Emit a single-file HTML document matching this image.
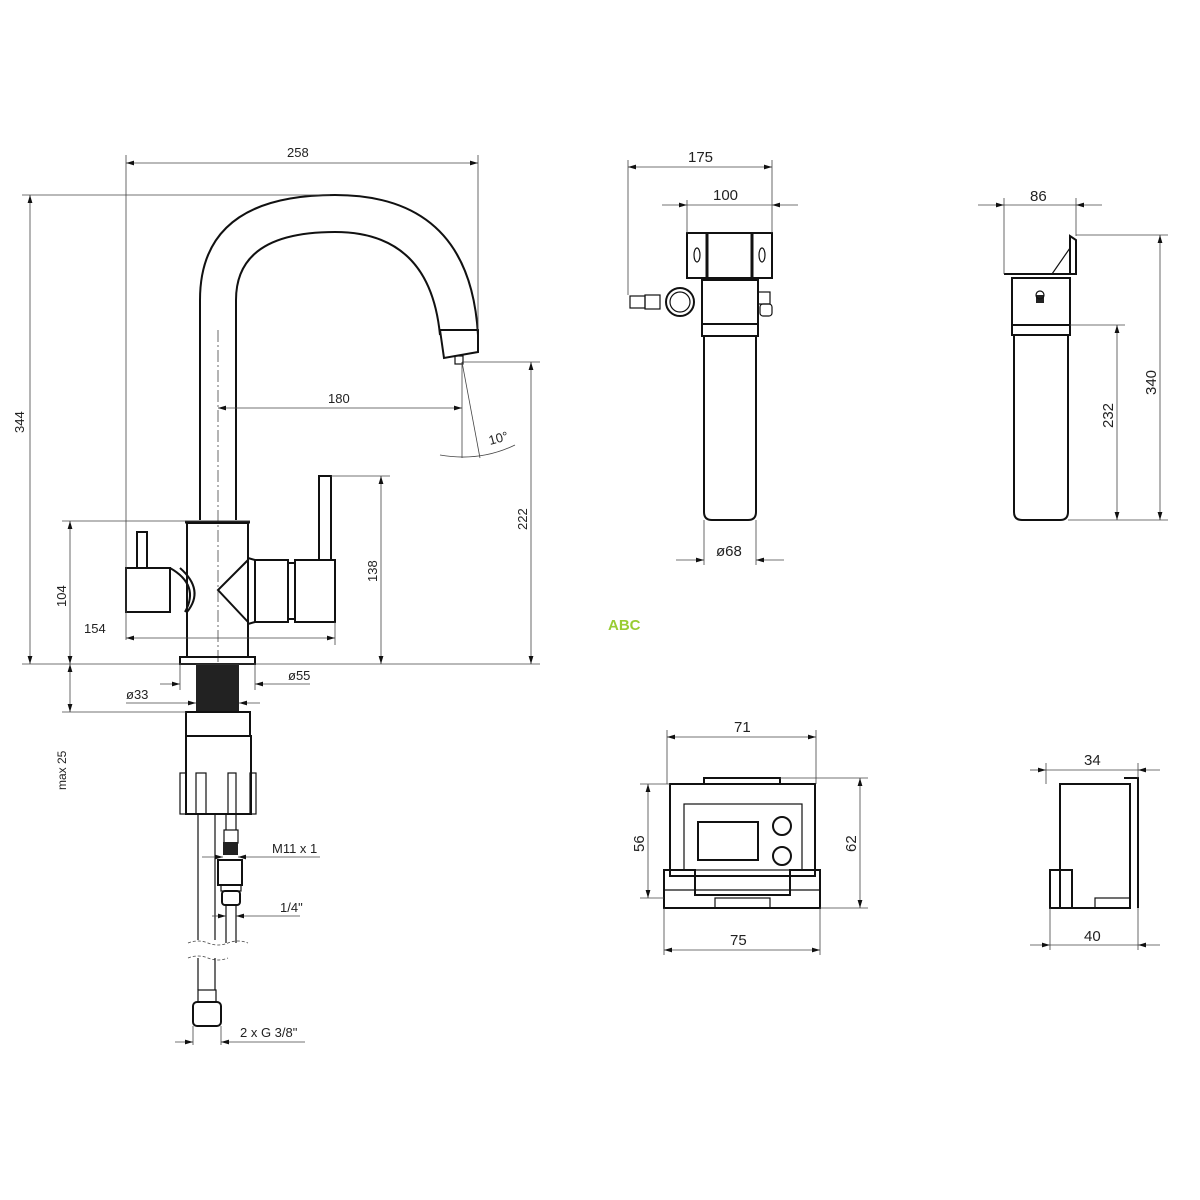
<!DOCTYPE html>
<html><head><style>
html,body{margin:0;padding:0;background:#fff}
svg{display:block}
text{font-family:"Liberation Sans",sans-serif;font-size:13px;fill:#222}
.o{fill:none;stroke:#111;stroke-width:2}
.t{fill:none;stroke:#111;stroke-width:1.2}
.d{fill:none;stroke:#444;stroke-width:0.8}
</style></head><body>
<svg width="1200" height="1200" viewBox="0 0 1200 1200">
<defs>
<marker id="a" viewBox="0 0 10 6" refX="10" refY="3" markerWidth="10" markerHeight="6" orient="auto-start-reverse"><path d="M0,0 L10,3 L0,6z" fill="#111"/></marker>
</defs>
<!-- FAUCET -->
<path class="o" d="M200,520 V300 Q200,195 335,195 Q470,195 478,335"/>
<path class="o" d="M236,520 V300 Q236,232 335,232 Q430,232 440,335"/>
<path class="o" d="M440,330 L478,330 L478,352 L444,358 Z"/>
<rect x="455" y="356" width="8" height="8" class="t"/>
<line class="d" x1="218" y1="330" x2="218" y2="664" stroke-dasharray="12,3,2,3"/>
<rect class="o" x="187" y="523" width="61" height="134"/>
<line x1="185" y1="522" x2="250" y2="522" stroke="#111" stroke-width="3"/>
<rect class="o" x="126" y="568" width="44" height="44"/>
<path class="o" d="M170,568 Q200,585 185,612"/>
<path class="o" d="M180,568 Q205,590 187,612"/>
<rect class="o" x="137" y="532" width="10" height="36"/>
<path class="o" d="M248,560 L218,590 L248,622"/>
<path class="o" d="M248,558 L255,560 V622 L248,624"/>
<rect class="o" x="255" y="560" width="33" height="62"/>
<rect class="o" x="288" y="563" width="7" height="56"/>
<rect class="o" x="295" y="560" width="40" height="62"/>
<rect class="o" x="319" y="476" width="12" height="84"/>
<rect class="o" x="180" y="657" width="75" height="7"/>
<rect x="196" y="664" width="43" height="48" fill="#222"/>
<rect class="o" x="186" y="712" width="64" height="24"/>
<rect class="o" x="186" y="736" width="65" height="78"/>
<rect class="t" x="180" y="773" width="6" height="41"/><rect class="t" x="196" y="773" width="10" height="41"/>
<rect class="t" x="228" y="773" width="8" height="41"/><rect class="t" x="250" y="773" width="6" height="41"/>
<line class="t" x1="198" y1="814" x2="198" y2="940"/><line class="t" x1="215" y1="814" x2="215" y2="940"/>
<line class="t" x1="226" y1="814" x2="226" y2="830"/><line class="t" x1="236" y1="814" x2="236" y2="830"/>
<rect class="t" x="224" y="830" width="14" height="13"/><rect x="223" y="842" width="15" height="13" fill="#222"/>
<rect class="o" x="218" y="860" width="24" height="25"/><rect class="t" x="221" y="885" width="20" height="6"/>
<rect class="o" x="222" y="891" width="18" height="14" rx="3"/>
<line class="t" x1="226" y1="905" x2="226" y2="943"/><line class="t" x1="236" y1="905" x2="236" y2="943"/>
<path class="d" d="M188,943 q10,-4 20,0 t20,0 t20,0" stroke-dasharray="3,2"/>
<path class="d" d="M188,958 q10,-4 20,0 t20,0" stroke-dasharray="3,2"/>
<line class="t" x1="198" y1="958" x2="198" y2="990"/><line class="t" x1="215" y1="958" x2="215" y2="990"/>
<rect class="t" x="198" y="990" width="18" height="12"/>
<rect class="o" x="193" y="1002" width="28" height="24" rx="4"/>
<!-- faucet dims -->
<line class="d" x1="126" y1="155" x2="126" y2="640"/><line class="d" x1="478" y1="155" x2="478" y2="330"/>
<line class="d" x1="126" y1="163" x2="478" y2="163" marker-start="url(#a)" marker-end="url(#a)"/>
<text x="287" y="157">258</text>
<line class="d" x1="22" y1="195" x2="330" y2="195"/>
<line class="d" x1="22" y1="664" x2="540" y2="664"/>
<line class="d" x1="30" y1="195" x2="30" y2="664" marker-start="url(#a)" marker-end="url(#a)"/>
<text transform="translate(24,433) rotate(-90)">344</text>
<line class="d" x1="218" y1="408" x2="462" y2="408" marker-start="url(#a)" marker-end="url(#a)"/>
<text x="328" y="403">180</text>
<line class="d" x1="462" y1="362" x2="462" y2="458"/><line class="d" x1="462" y1="362" x2="480" y2="458"/>
<path class="d" d="M440,455 Q480,462 515,445"/>
<text x="490" y="445" transform="rotate(-15 490 445)">10°</text>
<line class="d" x1="462" y1="362" x2="540" y2="362"/>
<line class="d" x1="531" y1="362" x2="531" y2="664" marker-start="url(#a)" marker-end="url(#a)"/>
<text transform="translate(527,530) rotate(-90)">222</text>
<line class="d" x1="331" y1="476" x2="390" y2="476"/>
<line class="d" x1="381" y1="476" x2="381" y2="664" marker-start="url(#a)" marker-end="url(#a)"/>
<text transform="translate(377,582) rotate(-90)">138</text>
<line class="d" x1="62" y1="521" x2="250" y2="521"/>
<line class="d" x1="70" y1="521" x2="70" y2="664" marker-start="url(#a)" marker-end="url(#a)"/>
<text transform="translate(66,607) rotate(-90)">104</text>
<line class="d" x1="335" y1="622" x2="335" y2="645"/>
<line class="d" x1="126" y1="638" x2="335" y2="638" marker-start="url(#a)" marker-end="url(#a)"/>
<text x="84" y="633">154</text>
<line class="d" x1="180" y1="664" x2="180" y2="690"/><line class="d" x1="255" y1="664" x2="255" y2="690"/>
<line class="d" x1="160" y1="684" x2="180" y2="684" marker-end="url(#a)"/>
<line class="d" x1="310" y1="684" x2="255" y2="684" marker-end="url(#a)"/>
<text x="288" y="680">ø55</text>
<line class="d" x1="126" y1="703" x2="196" y2="703" marker-end="url(#a)"/>
<line class="d" x1="260" y1="703" x2="239" y2="703" marker-end="url(#a)"/>
<text x="126" y="699">ø33</text>
<line class="d" x1="62" y1="712" x2="186" y2="712"/>
<line class="d" x1="70" y1="664" x2="70" y2="712" marker-start="url(#a)" marker-end="url(#a)"/>
<text transform="translate(66,790) rotate(-90)" style="font-size:12px">max 25</text>
<line class="d" x1="202" y1="857" x2="223" y2="857" marker-end="url(#a)"/>
<line class="d" x1="320" y1="857" x2="238" y2="857" marker-end="url(#a)"/>
<text x="272" y="853">M11 x 1</text>
<line class="d" x1="212" y1="916" x2="226" y2="916" marker-end="url(#a)"/>
<line class="d" x1="300" y1="916" x2="236" y2="916" marker-end="url(#a)"/>
<text x="280" y="912">1/4"</text>
<line class="d" x1="193" y1="1026" x2="193" y2="1045"/><line class="d" x1="221" y1="1026" x2="221" y2="1045"/>
<line class="d" x1="175" y1="1042" x2="193" y2="1042" marker-end="url(#a)"/>
<line class="d" x1="305" y1="1042" x2="221" y2="1042" marker-end="url(#a)"/>
<text x="240" y="1037">2 x G 3/8"</text>
<text x="608" y="630" style="font-size:15px;font-weight:bold;fill:#9c3">ABC</text>
<!-- FILTER FRONT -->
<rect class="o" x="687" y="233" width="85" height="45"/>
<rect x="687" y="233" width="85" height="45" fill="none" stroke="#111" stroke-width="1"/>
<line x1="707" y1="233" x2="707" y2="278" stroke="#111" stroke-width="3"/>
<line x1="752" y1="233" x2="752" y2="278" stroke="#111" stroke-width="3"/>
<ellipse cx="697" cy="255" rx="3" ry="7" class="t"/><ellipse cx="762" cy="255" rx="3" ry="7" class="t"/>
<rect class="o" x="702" y="280" width="56" height="44"/>
<rect class="o" x="702" y="324" width="56" height="12"/>
<path class="o" d="M704,336 V512 Q704,520 712,520 H748 Q756,520 756,512 V336"/>
<circle cx="680" cy="302" r="14" class="o"/><circle cx="680" cy="302" r="10" class="t"/>
<rect class="t" x="645" y="295" width="15" height="14"/><rect class="t" x="630" y="296" width="15" height="12"/>
<rect class="t" x="758" y="292" width="12" height="12"/><rect class="t" x="760" y="304" width="12" height="12" rx="3"/>
<line class="d" x1="628" y1="160" x2="628" y2="295"/><line class="d" x1="772" y1="160" x2="772" y2="233"/>
<line class="d" x1="628" y1="167" x2="772" y2="167" marker-start="url(#a)" marker-end="url(#a)"/>
<text x="688" y="162" style="font-size:15px">175</text>
<line class="d" x1="687" y1="200" x2="687" y2="233"/>
<line class="d" x1="662" y1="205" x2="687" y2="205" marker-end="url(#a)"/>
<line class="d" x1="798" y1="205" x2="772" y2="205" marker-end="url(#a)"/>
<line class="d" x1="687" y1="205" x2="772" y2="205"/>
<text x="713" y="200" style="font-size:15px">100</text>
<line class="d" x1="704" y1="520" x2="704" y2="565"/><line class="d" x1="756" y1="520" x2="756" y2="565"/>
<line class="d" x1="676" y1="560" x2="704" y2="560" marker-end="url(#a)"/>
<line class="d" x1="784" y1="560" x2="756" y2="560" marker-end="url(#a)"/>
<text x="716" y="556" style="font-size:15px">ø68</text>
<!-- FILTER SIDE -->
<path class="o" d="M1004,274 H1076 V240 L1070,236 V274"/>
<path class="t" d="M1052,274 L1070,248"/>
<rect class="o" x="1012" y="278" width="58" height="47"/>
<rect x="1036" y="295" width="8" height="8" fill="#222"/><circle cx="1040" cy="295" r="4" class="t"/>
<rect class="o" x="1012" y="325" width="58" height="10"/>
<path class="o" d="M1014,335 V512 Q1014,520 1022,520 H1060 Q1068,520 1068,512 V335"/>
<line class="d" x1="1004" y1="198" x2="1004" y2="274"/><line class="d" x1="1076" y1="198" x2="1076" y2="236"/>
<line class="d" x1="978" y1="205" x2="1004" y2="205" marker-end="url(#a)"/>
<line class="d" x1="1102" y1="205" x2="1076" y2="205" marker-end="url(#a)"/>
<line class="d" x1="1004" y1="205" x2="1076" y2="205"/>
<text x="1030" y="201" style="font-size:15px">86</text>
<line class="d" x1="1076" y1="235" x2="1168" y2="235"/>
<line class="d" x1="1070" y1="325" x2="1125" y2="325"/>
<line class="d" x1="1068" y1="520" x2="1168" y2="520"/>
<line class="d" x1="1117" y1="325" x2="1117" y2="520" marker-start="url(#a)" marker-end="url(#a)"/>
<text transform="translate(1113,428) rotate(-90)" style="font-size:15px">232</text>
<line class="d" x1="1160" y1="235" x2="1160" y2="520" marker-start="url(#a)" marker-end="url(#a)"/>
<text transform="translate(1156,395) rotate(-90)" style="font-size:15px">340</text>
<!-- DISPLAY FRONT -->
<rect class="o" x="704" y="778" width="76" height="6"/>
<rect class="o" x="670" y="784" width="145" height="92"/>
<rect class="t" x="684" y="804" width="118" height="66"/>
<rect class="o" x="698" y="822" width="60" height="38"/>
<circle cx="782" cy="826" r="9" class="o"/><circle cx="782" cy="856" r="9" class="o"/>
<path class="o" d="M664,870 H695 V895 H790 V870 H820 V908 H664 Z"/>
<line class="t" x1="664" y1="890" x2="820" y2="890"/>
<rect class="t" x="715" y="898" width="55" height="10"/>
<line class="d" x1="667" y1="730" x2="667" y2="784"/><line class="d" x1="816" y1="730" x2="816" y2="784"/>
<line class="d" x1="667" y1="737" x2="816" y2="737" marker-start="url(#a)" marker-end="url(#a)"/>
<text x="734" y="732" style="font-size:15px">71</text>
<line class="d" x1="664" y1="908" x2="664" y2="955"/><line class="d" x1="820" y1="908" x2="820" y2="955"/>
<line class="d" x1="664" y1="950" x2="820" y2="950" marker-start="url(#a)" marker-end="url(#a)"/>
<text x="730" y="945" style="font-size:15px">75</text>
<line class="d" x1="640" y1="784" x2="670" y2="784"/><line class="d" x1="640" y1="898" x2="664" y2="898"/>
<line class="d" x1="648" y1="784" x2="648" y2="898" marker-start="url(#a)" marker-end="url(#a)"/>
<text transform="translate(644,852) rotate(-90)" style="font-size:15px">56</text>
<line class="d" x1="780" y1="778" x2="868" y2="778"/><line class="d" x1="820" y1="908" x2="868" y2="908"/>
<line class="d" x1="860" y1="778" x2="860" y2="908" marker-start="url(#a)" marker-end="url(#a)"/>
<text transform="translate(856,852) rotate(-90)" style="font-size:15px">62</text>
<!-- DISPLAY SIDE -->
<path class="o" d="M1060,784 H1130 V908 H1060 Z"/>
<path class="o" d="M1124,778 H1138 V908"/>
<path class="o" d="M1050,870 H1072 V908 H1050 Z"/>
<rect class="t" x="1095" y="898" width="35" height="10"/>
<line class="d" x1="1046" y1="763" x2="1046" y2="784"/><line class="d" x1="1138" y1="763" x2="1138" y2="778"/>
<line class="d" x1="1030" y1="770" x2="1046" y2="770" marker-end="url(#a)"/>
<line class="d" x1="1160" y1="770" x2="1138" y2="770" marker-end="url(#a)"/>
<line class="d" x1="1046" y1="770" x2="1138" y2="770"/>
<text x="1084" y="765" style="font-size:15px">34</text>
<line class="d" x1="1050" y1="908" x2="1050" y2="950"/><line class="d" x1="1138" y1="908" x2="1138" y2="950"/>
<line class="d" x1="1030" y1="945" x2="1050" y2="945" marker-end="url(#a)"/>
<line class="d" x1="1160" y1="945" x2="1138" y2="945" marker-end="url(#a)"/>
<line class="d" x1="1050" y1="945" x2="1138" y2="945"/>
<text x="1084" y="941" style="font-size:15px">40</text>
</svg>
</body></html>
